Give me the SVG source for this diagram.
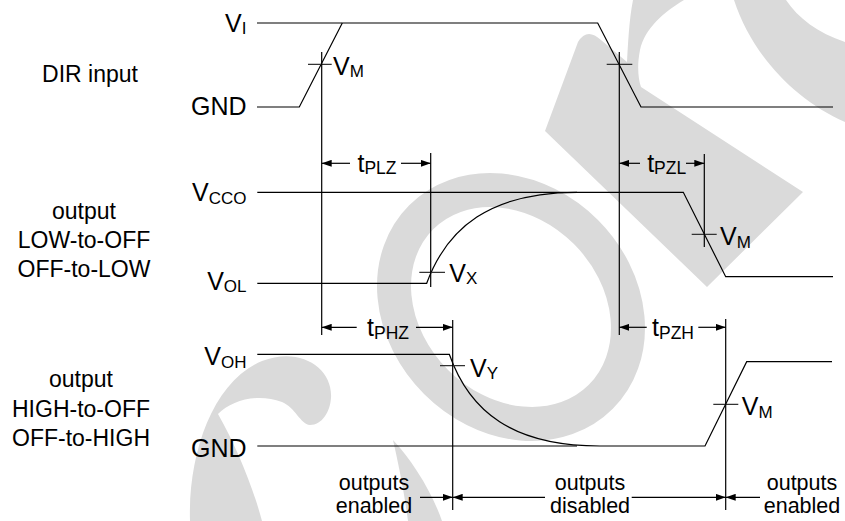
<svg xmlns="http://www.w3.org/2000/svg" width="845" height="521" viewBox="0 0 845 521">
<style>
.wm{fill:#dadada;stroke:none}
.wr{fill:none;stroke:#dadada;stroke-width:34}
.ln{fill:none;stroke:#000;stroke-width:1.2}
.tk{fill:none;stroke:#333;stroke-width:1.2}
.lbl{font-family:"Liberation Sans",Arial,sans-serif;font-size:23px;fill:#000;text-anchor:middle}
.v{font-family:"Liberation Sans",Arial,sans-serif;font-size:25px;fill:#000}
.end{text-anchor:end}
.mid{text-anchor:middle}
.sm{font-family:"Liberation Sans",Arial,sans-serif;font-size:21.5px;fill:#000;text-anchor:middle}
.arr{fill:none;stroke:#000;stroke-width:1.2;marker-end:url(#ah)}
</style>
<defs>
<marker id="ah" viewBox="0 0 10 7" refX="10" refY="3.5" markerWidth="10" markerHeight="7" markerUnits="userSpaceOnUse" orient="auto"><path d="M0,0 L10,3.5 L0,7 z" fill="#000"/></marker>
</defs>
<rect width="845" height="521" fill="#fff"/>
<g id="watermark">
<ellipse class="wr" cx="511" cy="307" rx="127" ry="106" transform="rotate(45 511 307)"/>
<path class="wm" d="M734 0 C752 55 795 100 845 122 L845 42 C818 33 798 18 786 0 Z"/>
<path class="wm" d="M545 131 L578 42 Q587 27 601 40 L627 62 C628 45 629 20 633 0 L684 0 C664 12 645 28 640 50 C637 65 638 78 641 87 L803 192 L707 287 Z"/>
<path class="wm" d="M190 521 C188 455 212 382 262 361 C300 346 333 368 331 398 C330 412 322 425 310 425 C300 424 296 408 282 402 C258 393 232 400 218 414 C236 446 252 484 262 521 Z"/>
<path class="wm" d="M393 440 C412 460 432 492 442 521 L408 521 C404 490 398 462 393 440 Z"/>
</g>
<g id="row-labels">
<text class="lbl" x="90" y="81.7">DIR input</text>
<text class="lbl" x="84" y="219.3">output</text>
<text class="lbl" x="84" y="247.5">LOW-to-OFF</text>
<text class="lbl" x="84" y="276.5">OFF-to-LOW</text>
<text class="lbl" x="81" y="387.3">output</text>
<text class="lbl" x="81" y="416.5">HIGH-to-OFF</text>
<text class="lbl" x="81" y="445.7">OFF-to-HIGH</text>
</g>
<g id="level-labels">
<text class="v end" x="246.5" y="32">V<tspan font-size="17" dy="2">I</tspan></text>
<text class="v end" x="246.5" y="115">GND</text>
<text class="v end" x="246.5" y="201">V<tspan font-size="17" dy="2.5">CCO</tspan></text>
<text class="v end" x="246.5" y="289.5">V<tspan font-size="17" dy="2.5">OL</tspan></text>
<text class="v end" x="246.5" y="364.5">V<tspan font-size="17" dy="3">OH</tspan></text>
<text class="v end" x="246.5" y="456.5">GND</text>
</g>
<g id="waveforms">
<path class="ln" d="M257 23 H597.7 L641 107 H833"/>
<path class="ln" d="M257 107 H299.3 L342.3 23"/>
<path class="ln" d="M257.3 192.3 H683.3 L725.7 276.7 H833"/>
<path class="ln" d="M257.3 283.3 H426.7 C447 228 490 192.3 577 192.3"/>
<path class="ln" d="M257.3 354.3 H449.3 C469.5 412 513 446 600 446 H705 L746.7 361.7 H832"/>
<path class="ln" d="M257.3 446 H577"/>
</g>
<g id="ticks">
<path class="tk" d="M308 64.3 H331.7 M606.7 64.3 H632.3 M419.3 272.3 H445 M691.7 234.3 H716.7 M440 365.7 H465 M713.3 404.3 H738.3"/>
</g>
<g id="tick-labels">
<text class="v" x="333" y="75">V<tspan font-size="17" dy="2">M</tspan></text>
<text class="v" x="449.3" y="281.5">V<tspan font-size="17" dy="2.5">X</tspan></text>
<text class="v" x="720" y="245">V<tspan font-size="17" dy="2.5">M</tspan></text>
<text class="v" x="470" y="376.5">V<tspan font-size="17" dy="2.5">Y</tspan></text>
<text class="v" x="741.7" y="415">V<tspan font-size="17" dy="2.5">M</tspan></text>
</g>
<g id="reference-lines">
<path class="ln" d="M321.7 52 V335 M619.3 52 V335 M430.7 153 V287 M704.3 154 V247 M452.7 320 V510 M725.7 319 V510"/>
</g>
<g id="connectors">
<path class="arr" d="M350 163.3 H321.7"/>
<path class="arr" d="M401 163.3 H430.7"/>
<path class="arr" d="M640 163.3 H619.3"/>
<path class="arr" d="M686 163.3 H704.3"/>
<path class="arr" d="M356.7 327.3 H321.7"/>
<path class="arr" d="M416 327.3 H452.7"/>
<path class="arr" d="M646.7 327.3 H619.3"/>
<path class="arr" d="M698.3 327.3 H725.7"/>
<path class="arr" d="M420 497.3 H452.7"/>
<path class="arr" d="M545 497.3 H452.7"/>
<path class="arr" d="M631.7 497.3 H725.7"/>
<path class="arr" d="M760 497.3 H725.7"/>
</g>
<g id="timing-labels">
<text class="v mid" x="377" y="171.7" font-size="26">t<tspan font-size="17.5" dy="2.5">PLZ</tspan></text>
<text class="v mid" x="666.7" y="171.7" font-size="26">t<tspan font-size="17.5" dy="2.5">PZL</tspan></text>
<text class="v mid" x="388" y="336.3" font-size="26">t<tspan font-size="17.5" dy="2.5">PHZ</tspan></text>
<text class="v mid" x="673" y="336.3" font-size="26">t<tspan font-size="17.5" dy="2.5">PZH</tspan></text>
</g>
<g id="state-labels">
<text class="sm" x="374" y="490">outputs</text>
<text class="sm" x="374" y="513.3">enabled</text>
<text class="sm" x="590" y="490">outputs</text>
<text class="sm" x="590" y="513.3">disabled</text>
<text class="sm" x="802" y="490">outputs</text>
<text class="sm" x="802" y="513.3">enabled</text>
</g>
</svg>
